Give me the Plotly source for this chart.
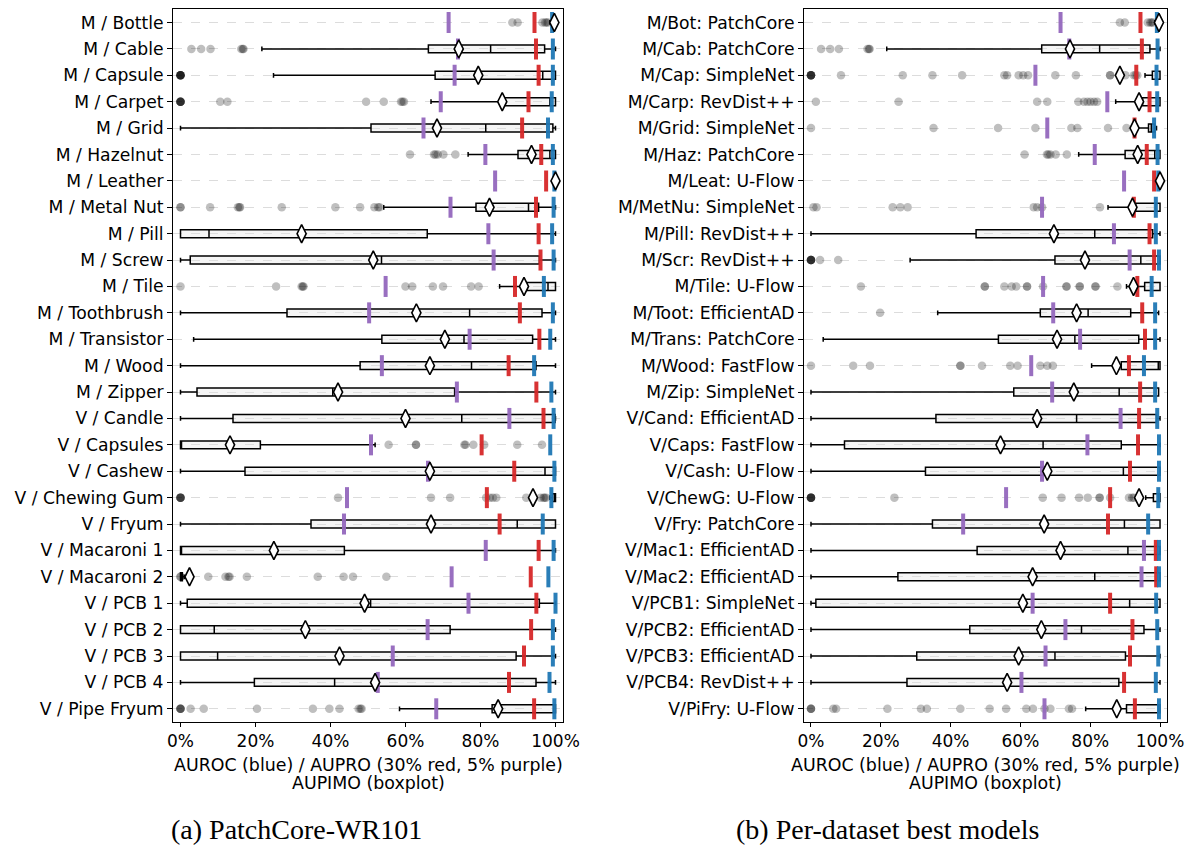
import plotly.graph_objects as go

# ---------------- data: (a) PatchCore-WR101 ----------------
labels_a = ["M / Bottle", "M / Cable", "M / Capsule", "M / Carpet", "M / Grid", "M / Hazelnut",
            "M / Leather", "M / Metal Nut", "M / Pill", "M / Screw", "M / Tile", "M / Toothbrush",
            "M / Transistor", "M / Wood", "M / Zipper", "V / Candle", "V / Capsules", "V / Cashew",
            "V / Chewing Gum", "V / Fryum", "V / Macaroni 1", "V / Macaroni 2", "V / PCB 1",
            "V / PCB 2", "V / PCB 3", "V / PCB 4", "V / Pipe Fryum"]
a_lower = [0.985, 0.217, 0.248, 0.668, 0.0, 0.767, 1.0, 0.542, 0.0, 0.0, 0.851, 0.0, 0.035, 0.0,
           0.0, 0.0, 0.0, 0.0, 0.985, 0.0, 0.0, 0.0, 0.0, 0.0, 0.0, 0.0, 0.584]
a_q1 = [0.995, 0.661, 0.679, 0.864, 0.508, 0.900, 1.0, 0.788, 0.0, 0.026, 0.924, 0.284, 0.537, 0.479,
        0.044, 0.140, 0.0, 0.172, 0.992, 0.348, 0.0, 0.0, 0.018, 0.0, 0.0, 0.197, 0.831]
a_med = [1.0, 0.827, 0.966, 0.985, 0.814, 0.985, 1.0, 0.928, 0.076, 0.536, 0.980, 0.771, 0.756, 0.776,
         0.406, 0.750, 0.0, 0.972, 0.998, 0.898, 0.0, 0.0, 0.507, 0.090, 0.099, 0.411, 0.995]
a_q3 = [1.0, 0.971, 1.0, 1.0, 0.993, 1.0, 1.0, 0.955, 0.658, 0.957, 1.0, 0.964, 0.939, 0.948, 0.731,
        0.999, 0.213, 1.0, 1.0, 1.0, 0.437, 0.005, 0.957, 0.719, 0.895, 0.948, 1.0]
a_upper = [1.0, 1.0, 1.0, 1.0, 1.0, 1.0, 1.0, 1.0, 1.0, 1.0, 1.0, 1.0, 1.0, 1.0, 1.0, 1.0, 0.519,
           1.0, 1.0, 1.0, 1.0, 0.01, 1.0, 1.0, 1.0, 1.0, 1.0]
a_mean = [0.997, 0.742, 0.794, 0.858, 0.684, 0.936, 1.0, 0.824, 0.323, 0.514, 0.916, 0.629, 0.705,
          0.665, 0.420, 0.600, 0.132, 0.665, 0.940, 0.668, 0.249, 0.024, 0.491, 0.333, 0.424, 0.519,
          0.847]
a_auroc = [0.991, 0.993, 0.993, 0.990, 0.980, 0.993, 0.997, 0.995, 0.991, 0.995, 0.969, 0.993, 0.986,
           0.943, 0.989, 0.995, 0.986, 0.997, 0.989, 0.966, 0.995, 0.981, 1.0, 0.993, 0.993, 0.984,
           0.997]
a_aupro30 = [0.944, 0.948, 0.955, 0.928, 0.911, 0.962, 0.975, 0.948, 0.955, 0.960, 0.892, 0.905, 0.957,
             0.875, 0.949, 0.968, 0.803, 0.890, 0.817, 0.851, 0.955, 0.934, 0.949, 0.935, 0.916, 0.876,
             0.943]
a_aupro5 = [0.715, 0.740, 0.731, 0.694, 0.648, 0.813, 0.839, 0.720, 0.821, 0.835, 0.547, 0.503, 0.771,
            0.537, 0.737, 0.877, 0.508, 0.660, 0.444, 0.436, 0.814, 0.723, 0.768, 0.659, 0.566, 0.526,
            0.682]
a_outliers = [
    [0.885, 0.899, 0.965, 0.972, 0.976, 0.98],
    [0.029, 0.055, 0.080, 0.162, 0.166, 0.168],
    [0.0, 0.0, 0.0, 0.0, 0.0, 0.0, 0.0],
    [0.0, 0.0, 0.0, 0.0, 0.0, 0.0, 0.106, 0.125, 0.495, 0.542, 0.588, 0.592, 0.596],
    [],
    [0.612, 0.676, 0.680, 0.686, 0.701, 0.733],
    [],
    [0.0, 0.0, 0.079, 0.153, 0.157, 0.159, 0.270, 0.413, 0.479, 0.517, 0.527, 0.531],
    [],
    [],
    [0.0, 0.255, 0.323, 0.326, 0.328, 0.600, 0.618, 0.673, 0.700, 0.775, 0.795],
    [],
    [],
    [],
    [],
    [],
    [0.555, 0.628, 0.628, 0.757, 0.760, 0.781, 0.810, 0.898, 0.964],
    [],
    [0.0, 0.0, 0.0, 0.0, 0.0, 0.420, 0.668, 0.719, 0.815, 0.825, 0.833, 0.842, 0.922, 0.960, 0.968,
     0.971, 0.975],
    [],
    [],
    [0.0, 0.0, 0.074, 0.120, 0.128, 0.131, 0.177, 0.366, 0.435, 0.460, 0.549],
    [],
    [],
    [],
    [],
    [0.0, 0.0, 0.0, 0.0, 0.027, 0.062, 0.204, 0.353, 0.397, 0.424, 0.475, 0.480, 0.483],
]

# ---------------- data: (b) per-dataset best models ----------------
labels_b = ["M/Bot: PatchCore", "M/Cab: PatchCore", "M/Cap: SimpleNet", "M/Carp: RevDist++",
            "M/Grid: SimpleNet", "M/Haz: PatchCore", "M/Leat: U-Flow", "M/MetNu: SimpleNet",
            "M/Pill: RevDist++", "M/Scr: RevDist++", "M/Tile: U-Flow", "M/Toot: EfficientAD",
            "M/Trans: PatchCore", "M/Wood: FastFlow", "M/Zip: SimpleNet", "V/Cand: EfficientAD",
            "V/Caps: FastFlow", "V/Cash: U-Flow", "V/ChewG: U-Flow", "V/Fry: PatchCore",
            "V/Mac1: EfficientAD", "V/Mac2: EfficientAD", "V/PCB1: SimpleNet", "V/PCB2: EfficientAD",
            "V/PCB3: EfficientAD", "V/PCB4: RevDist++", "V/PiFry: U-Flow"]
b_lower = [0.985, 0.217, 0.957, 0.873, 0.935, 0.767, 1.0, 0.851, 0.0, 0.284, 0.904, 0.363, 0.035,
           0.804, 0.0, 0.0, 0.0, 0.0, 0.959, 0.0, 0.0, 0.0, 0.0, 0.0, 0.0, 0.0, 0.787]
b_q1 = [0.995, 0.661, 0.978, 0.950, 0.967, 0.900, 1.0, 0.930, 0.473, 0.699, 0.956, 0.657, 0.537, 0.889,
        0.581, 0.358, 0.096, 0.328, 0.981, 0.348, 0.476, 0.249, 0.014, 0.455, 0.303, 0.275, 0.904]
b_med = [1.0, 0.827, 0.990, 0.990, 0.975, 0.985, 1.0, 0.988, 0.813, 0.945, 0.975, 0.794, 0.756, 0.995,
         0.883, 0.761, 0.665, 0.895, 0.995, 0.898, 0.908, 0.813, 0.913, 0.775, 0.699, 0.570, 0.995]
b_q3 = [1.0, 0.971, 1.0, 1.0, 0.985, 1.0, 1.0, 1.0, 0.979, 1.0, 1.0, 0.916, 0.939, 1.0, 0.996, 0.990,
        0.889, 1.0, 1.0, 1.0, 1.0, 1.0, 1.0, 0.954, 0.901, 0.882, 1.0]
b_upper = [1.0, 1.0, 1.0, 1.0, 0.990, 1.0, 1.0, 1.0, 1.0, 1.0, 1.0, 0.996, 1.0, 1.0, 0.996, 1.0, 1.0,
           1.0, 1.0, 1.0, 1.0, 1.0, 1.0, 1.0, 1.0, 1.0, 1.0]
b_mean = [0.997, 0.742, 0.885, 0.940, 0.927, 0.936, 1.0, 0.921, 0.696, 0.785, 0.924, 0.761, 0.705,
          0.875, 0.753, 0.648, 0.543, 0.677, 0.940, 0.668, 0.715, 0.635, 0.607, 0.660, 0.595, 0.562,
          0.876]
b_auroc = [0.991, 0.993, 0.990, 0.992, 0.983, 0.993, 0.995, 0.988, 0.988, 0.997, 0.976, 0.986, 0.986,
           0.954, 0.986, 0.992, 0.997, 0.997, 0.995, 0.966, 0.997, 0.997, 0.989, 0.992, 0.995, 0.988,
           0.997]
b_aupro30 = [0.944, 0.948, 0.932, 0.970, 0.927, 0.962, 0.983, 0.925, 0.970, 0.983, 0.935, 0.949, 0.957,
             0.911, 0.943, 0.940, 0.937, 0.914, 0.857, 0.851, 0.988, 0.989, 0.857, 0.921, 0.914, 0.897,
             0.928]
b_aupro5 = [0.715, 0.740, 0.643, 0.849, 0.677, 0.813, 0.897, 0.662, 0.868, 0.913, 0.665, 0.694, 0.771,
            0.631, 0.691, 0.887, 0.792, 0.662, 0.559, 0.436, 0.954, 0.947, 0.635, 0.729, 0.672, 0.603,
            0.669]
b_outliers = [
    [0.885, 0.899, 0.965, 0.972, 0.976, 0.98],
    [0.029, 0.055, 0.080, 0.162, 0.166, 0.168],
    [0.0, 0.0, 0.0, 0.0, 0.0, 0.0, 0.086, 0.263, 0.348, 0.433, 0.554, 0.562, 0.595, 0.608, 0.622,
     0.700, 0.759, 0.857, 0.857, 0.901, 0.925, 0.930, 0.935],
    [0.014, 0.251, 0.648, 0.677, 0.766, 0.782, 0.792, 0.801, 0.811, 0.820],
    [0.0, 0.351, 0.536, 0.643, 0.746, 0.763, 0.851, 0.904],
    [0.612, 0.676, 0.680, 0.686, 0.701, 0.733],
    [],
    [0.007, 0.016, 0.234, 0.256, 0.277, 0.638, 0.648, 0.662, 0.828],
    [],
    [0.0, 0.0, 0.0, 0.0, 0.0, 0.0, 0.026, 0.078],
    [0.143, 0.498, 0.498, 0.554, 0.575, 0.588, 0.619, 0.619, 0.665, 0.732, 0.732, 0.770, 0.770,
     0.815, 0.815, 0.878],
    [0.198],
    [],
    [0.0, 0.121, 0.169, 0.428, 0.428, 0.490, 0.571, 0.592, 0.657, 0.677, 0.693],
    [],
    [],
    [],
    [],
    [0.0, 0.0, 0.0, 0.0, 0.0, 0.0, 0.239, 0.664, 0.718, 0.768, 0.793, 0.827, 0.827, 0.857, 0.911,
     0.920, 0.925],
    [],
    [],
    [],
    [],
    [],
    [],
    [],
    [0.0, 0.0, 0.0, 0.064, 0.072, 0.219, 0.315, 0.332, 0.428, 0.512, 0.559, 0.617, 0.636, 0.669,
     0.686, 0.739, 0.748],
]

x_ticks = [0, 0.2, 0.4, 0.6, 0.8, 1.0]
x_ticktext = ["0%", "20%", "40%", "60%", "80%", "100%"]
captions = ["(a) PatchCore-WR101", "(b) Per-dataset best models"]
axis_title_1 = "AUROC (blue) / AUPRO (30% red, 5% purple)"
axis_title_2 = "AUPIMO (boxplot)"

# the page body has an 8px margin: the figure is drawn inside it
OFF = 8
W, H = 1193 - 2 * OFF, 847 - OFF


def px(x):
    return (x - OFF) / W


def py(y):
    return 1 - (y - OFF) / H


BLUE = "rgba(31,119,180,0.95)"
RED = "rgba(214,39,40,0.95)"
PURPLE = "rgba(148,103,189,0.95)"

fig = go.Figure()


def add_panel(xa, ya, labels, lower, q1, med, q3, upper, mean, auroc, ap30, ap5, outl):
    rows = list(range(len(labels)))
    fig.add_trace(go.Box(
        orientation="h", y=rows, q1=q1, median=med, q3=q3,
        lowerfence=lower, upperfence=upper, boxpoints=False,
        width=0.3, whiskerwidth=0.6,
        fillcolor="rgba(225,225,225,0.35)",
        line=dict(color="black", width=1.5),
        xaxis=xa, yaxis=ya, hoverinfo="skip"))
    ox, oy = [], []
    for r, vals in zip(rows, outl):
        for v in vals:
            ox.append(v)
            oy.append(r)
    fig.add_trace(go.Scatter(
        x=ox, y=oy, mode="markers", xaxis=xa, yaxis=ya, hoverinfo="skip",
        marker=dict(symbol="circle", size=8.5, color="rgba(0,0,0,0.25)", line=dict(width=0))))
    for vals, col in ((ap5, PURPLE), (ap30, RED), (auroc, BLUE)):
        fig.add_trace(go.Scatter(
            x=vals, y=rows, mode="markers", xaxis=xa, yaxis=ya, hoverinfo="skip",
            marker=dict(symbol="line-ns", size=15, color=col, line=dict(width=4, color=col))))
    fig.add_trace(go.Scatter(
        x=mean, y=rows, mode="markers", xaxis=xa, yaxis=ya, hoverinfo="skip",
        marker=dict(symbol="diamond-tall", size=13, color="white",
                    line=dict(width=1.6, color="black"))))


add_panel("x", "y", labels_a, a_lower, a_q1, a_med, a_q3, a_upper, a_mean,
          a_auroc, a_aupro30, a_aupro5, a_outliers)
add_panel("x2", "y2", labels_b, b_lower, b_q1, b_med, b_q3, b_upper, b_mean,
          b_auroc, b_aupro30, b_aupro5, b_outliers)

xcommon = dict(range=[-0.02, 1.02], tickvals=x_ticks, ticktext=x_ticktext, ticks="outside",
               ticklen=4, tickcolor="black", showline=True, mirror=True, linecolor="black",
               linewidth=1, showgrid=False, zeroline=False,
               tickfont=dict(size=17, family="DejaVu Sans", color="black"))
ydomain = [py(722), py(9.3)]


def ycommon(labels, size):
    return dict(domain=ydomain, range=[len(labels) - 0.5, -0.5], tickvals=list(range(len(labels))),
                ticktext=labels, ticks="outside", ticklen=5, tickcolor="black", showline=True,
                mirror=True, linecolor="black", linewidth=1, showgrid=True, gridcolor="#dcdcdc",
                griddash="dash", gridwidth=1, zeroline=False,
                tickfont=dict(size=size, family="DejaVu Sans", color="black"))


dom_a = [px(173), px(563)]
dom_b = [px(804), px(1167)]
fig.update_layout(
    width=W, height=H, margin=dict(l=0, r=0, t=0, b=0, autoexpand=False),
    paper_bgcolor="white", plot_bgcolor="white", showlegend=False,
    font=dict(family="DejaVu Sans", size=17, color="black"),
    xaxis=dict(domain=dom_a, anchor="y", **xcommon),
    yaxis=dict(anchor="x", **ycommon(labels_a, 17.2)),
    xaxis2=dict(domain=dom_b, anchor="y2", **xcommon),
    yaxis2=dict(anchor="x2", **ycommon(labels_b, 17.2)),
)

ann = []
for dom, cap, cx in ((dom_a, captions[0], 296), (dom_b, captions[1], 887)):
    mid = (dom[0] + dom[1]) / 2
    ann.append(dict(x=mid, y=py(765), xref="paper", yref="paper", text=axis_title_1,
                    showarrow=False, xanchor="center", yanchor="middle",
                    font=dict(size=17.4, family="DejaVu Sans", color="black")))
    ann.append(dict(x=mid, y=py(783), xref="paper", yref="paper", text=axis_title_2,
                    showarrow=False, xanchor="center", yanchor="middle",
                    font=dict(size=17.4, family="DejaVu Sans", color="black")))
    ann.append(dict(x=px(cx), y=py(829), xref="paper", yref="paper", text=cap,
                    showarrow=False, xanchor="center", yanchor="middle",
                    font=dict(size=28, family="Liberation Serif", color="black")))
fig.update_layout(annotations=ann)

fig.write_html("out.html")
